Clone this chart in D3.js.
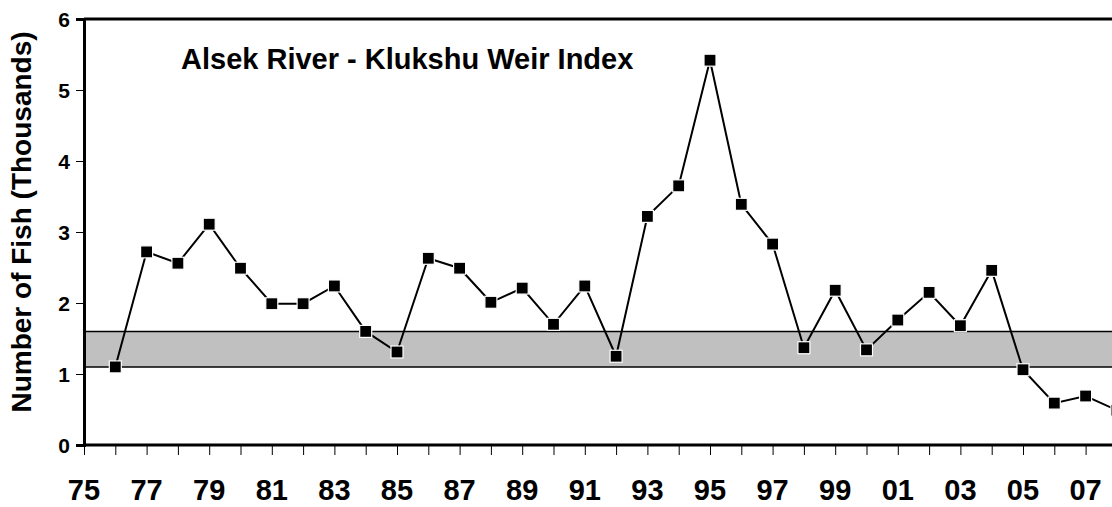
<!DOCTYPE html>
<html>
<head>
<meta charset="utf-8">
<script src="https://cdn.jsdelivr.net/npm/d3@7"></script>
<style>
  body { margin: 0; background: #fff; }
  svg { display: block; font-family: Arial, "Liberation Sans", sans-serif; font-weight: bold; }
</style>
</head>
<body>
<div id="chart"></div>
<script>
// chart values
const years = [76, 77, 78, 79, 80, 81, 82, 83, 84, 85, 86, 87, 88, 89, 90, 91, 92,
  93, 94, 95, 96, 97, 98, 99, 100, 101, 102, 103, 104, 105, 106, 107, 108];
const fish = [1.10, 2.72, 2.56, 3.11, 2.49, 1.99, 1.99, 2.24, 1.60, 1.31, 2.63, 2.49, 2.01,
  2.21, 1.70, 2.24, 1.25, 3.22, 3.65, 5.42, 3.39, 2.83, 1.37, 2.18, 1.34, 1.76, 2.15,
  1.68, 2.46, 1.06, 0.59, 0.69, 0.49];
const goalRange = [1.1, 1.6];
const xTicks = d3.range(75, 108);
const xLabels = d3.range(75, 108, 2);
const yTicks = [0, 1, 2, 3, 4, 5, 6];

function draw() {
  const width = 1112;
  const height = 507;
  const left = 84, top = 19, bottom = 445;

  const x = d3.scaleLinear().domain([75, 108]).range([left, left + 33 * 31.3]);
  const y = d3.scaleLinear().domain([0, 6]).range([bottom, top]);

  const svg = d3.select("#chart")
    .append("svg")
    .attr("width", width)
    .attr("height", height);

  // goal band
  svg.append("rect")
    .attr("x", left)
    .attr("y", y(goalRange[1]))
    .attr("width", width - left)
    .attr("height", y(goalRange[0]) - y(goalRange[1]))
    .attr("fill", "#c0c0c0");
  svg.selectAll(".band-line")
    .data(goalRange)
    .join("line")
    .attr("class", "band-line")
    .attr("x1", left)
    .attr("x2", width)
    .attr("y1", d => y(d))
    .attr("y2", d => y(d))
    .attr("stroke", "#000")
    .attr("stroke-width", 1.5);

  // frame top
  svg.append("line")
    .attr("x1", left).attr("x2", width)
    .attr("y1", top).attr("y2", top)
    .attr("stroke", "#000").attr("stroke-width", 3);

  // y axis
  const yAxis = svg.append("g")
    .attr("transform", `translate(${left},0)`)
    .attr("font-size", 21)
    .attr("font-family", null)
    .call(d3.axisLeft(y).tickValues(yTicks).tickSize(8).tickPadding(6).tickFormat(d3.format("d")));
  yAxis.attr("font-size", 21).attr("font-family", null);
  yAxis.select(".domain").attr("stroke-width", 3);
  yAxis.selectAll(".tick line").attr("stroke-width", 1);
  yAxis.selectAll("text")
    .attr("dy", "0.36em")
    .attr("fill", "#000");

  // x axis
  const xAxis = svg.append("g")
    .attr("transform", `translate(0,${bottom})`)
    .call(d3.axisBottom(x).tickValues(xTicks).tickSize(10).tickFormat(""));
  xAxis.select(".domain").attr("stroke-width", 3).attr("d", `M${left},0H${width}`);
  xAxis.selectAll(".tick line").attr("stroke-width", 1);

  svg.append("g")
    .selectAll("text")
    .data(xLabels)
    .join("text")
    .attr("x", d => x(d))
    .attr("y", 500)
    .attr("text-anchor", "middle")
    .attr("font-size", 29)
    .text(d => String(d % 100).padStart(2, "0"));

  // axis title
  svg.append("text")
    .attr("transform", "translate(31,222) rotate(-90)")
    .attr("text-anchor", "middle")
    .attr("font-size", 28)
    .text("Number of Fish (Thousands)");

  // chart title
  svg.append("text")
    .attr("x", 181)
    .attr("y", 69)
    .attr("font-size", 29)
    .text("Alsek River - Klukshu Weir Index");

  // series
  const line = d3.line()
    .x((d, i) => x(years[i]))
    .y(d => y(d));
  svg.append("path")
    .datum(fish)
    .attr("fill", "none")
    .attr("stroke", "#000")
    .attr("stroke-width", 2)
    .attr("d", line);

  svg.append("g")
    .selectAll("rect")
    .data(fish)
    .join("rect")
    .attr("x", (d, i) => x(years[i]) - 6)
    .attr("y", d => y(d) - 6)
    .attr("width", 12)
    .attr("height", 12)
    .attr("fill", "#000")
    .attr("stroke", "#fff")
    .attr("stroke-width", 1.2);
}
draw();
</script>
</body>
</html>
